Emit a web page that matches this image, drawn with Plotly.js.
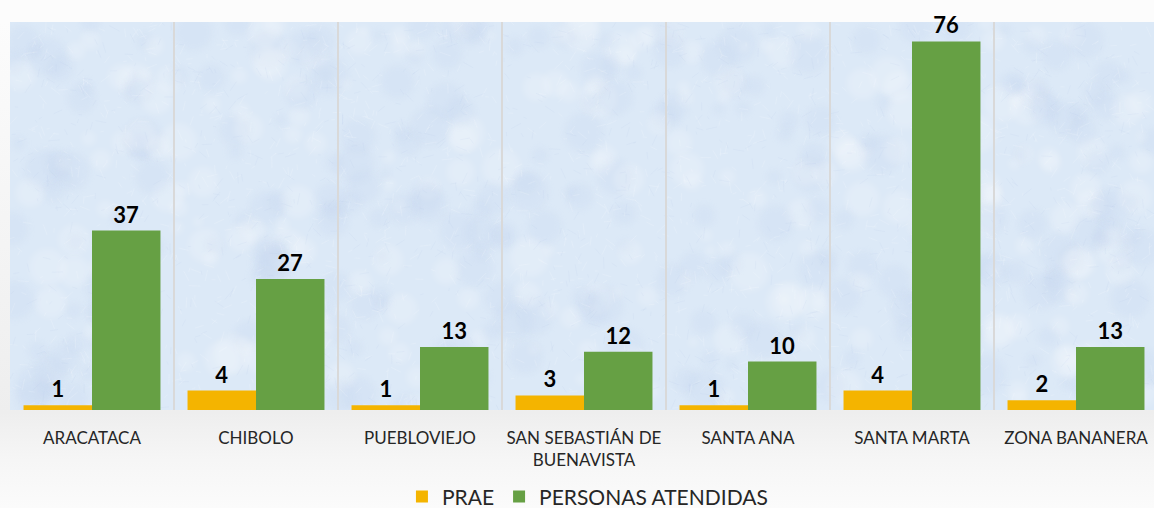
<!DOCTYPE html>
<html>
<head>
<meta charset="utf-8">
<script src="https://cdn.plot.ly/plotly-3.0.1.min.js"></script>
<style>
html,body{margin:0;padding:0;overflow:hidden;width:1154px;height:508px;}
body{background:linear-gradient(to bottom,#fcfcfc 0px,#fcfcfc 22px,#eeeeee 412px,#f6f6f6 460px,#fbfbfb 508px);}
#chart{width:1160px;height:508px;}
</style>
</head>
<body>
<div id="chart"></div>
<script>
const categories = ["ARACATACA", "CHIBOLO", "PUEBLOVIEJO", "SAN SEBASTIÁN DE<br>BUENAVISTA", "SANTA ANA", "SANTA MARTA", "ZONA BANANERA"];
const prae = [1, 4, 1, 3, 1, 4, 2];
const personasAtendidas = [37, 27, 13, 12, 10, 76, 13];
const seriesNames = ["PRAE", "PERSONAS ATENDIDAS"];

// light blue textured backdrop (decorative only)
function makeTexture(w, h) {
  const c = document.createElement('canvas');
  c.width = w; c.height = h;
  const g = c.getContext('2d');
  g.fillStyle = '#dce9f7';
  g.fillRect(0, 0, w, h);
  let s = 12345;
  const rnd = () => { s = (s * 16807) % 2147483647; return s / 2147483647; };
  g.filter = 'blur(3px)';
  for (let i = 0; i < 500; i++) {
    const x = rnd() * w, y = rnd() * h, r = 5 + rnd() * 15;
    g.fillStyle = rnd() < 0.5 ? 'rgba(255,255,255,0.18)' : 'rgba(185,208,236,0.16)';
    g.beginPath(); g.arc(x, y, r, 0, Math.PI * 2); g.fill();
  }
  g.filter = 'none';
  for (let i = 0; i < 3000; i++) {
    const x = rnd() * w, y = rnd() * h;
    const len = 3 + rnd() * 9, a = rnd() * Math.PI;
    g.strokeStyle = rnd() < 0.6 ? 'rgba(255,255,255,0.2)' : 'rgba(170,195,225,0.14)';
    g.lineWidth = 0.8;
    g.beginPath();
    g.moveTo(x, y);
    g.lineTo(x + Math.cos(a) * len, y + Math.sin(a) * len);
    g.stroke();
  }
  return c.toDataURL('image/png');
}

const tex = makeTexture(1148, 388);
const fontFam = 'Lato, "Open Sans", sans-serif';

const traces = [
  {
    type: 'bar', name: seriesNames[0], x: categories, y: prae,
    marker: {color: '#f4b400'},
    text: prae.map(String), textposition: 'outside', cliponaxis: false,
    textfont: {family: fontFam, size: 22, color: '#000000', weight: 'bold'},
    hoverinfo: 'x+y'
  },
  {
    type: 'bar', name: seriesNames[1], x: categories, y: personasAtendidas,
    marker: {color: '#66a044'},
    text: personasAtendidas.map(String), textposition: 'outside', cliponaxis: false,
    textfont: {family: fontFam, size: 22, color: '#000000', weight: 'bold'},
    hoverinfo: 'x+y'
  }
];

const layout = {
  width: 1160, height: 508,
  margin: {l: 10, r: 2, t: 22, b: 98, autoexpand: false},
  paper_bgcolor: 'rgba(0,0,0,0)',
  plot_bgcolor: '#dce9f7',
  barmode: 'group',
  bargap: 0.165,
  bargroupgap: 0,
  showlegend: true,
  legend: {
    orientation: 'h', x: 0.503, xanchor: 'center', y: -0.224, yanchor: 'middle',
    font: {family: fontFam, size: 21, color: '#262626'},
    traceorder: 'normal', itemclick: false
  },
  xaxis: {
    type: 'category',
    tickson: 'boundaries',
    showgrid: true, gridcolor: '#d9d9d9', gridwidth: 1.5,
    ticks: '', showline: false, zeroline: false,
    ticklabelstandoff: 16,
    automargin: false,
    tickfont: {family: fontFam, size: 17, color: '#262626'},
    fixedrange: true
  },
  yaxis: {
    range: [0, 80], visible: false, showgrid: false, zeroline: false, fixedrange: true, automargin: false
  },
  images: [{
    source: tex, xref: 'paper', yref: 'paper', x: 0, y: 1, sizex: 1, sizey: 1,
    sizing: 'stretch', layer: 'below', xanchor: 'left', yanchor: 'top'
  }]
};

Plotly.newPlot('chart', traces, layout, {displayModeBar: false, staticPlot: true});
</script>
</body>
</html>
